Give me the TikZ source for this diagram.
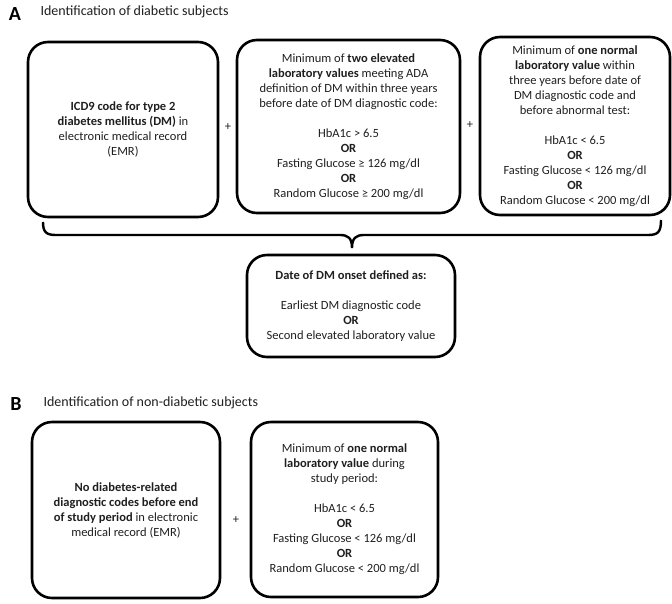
\documentclass[tikz,border=0pt]{standalone}
\usepackage{fontspec}
\setmainfont{Carlito}
\definecolor{ink}{rgb}{0.12,0.12,0.12}
\begin{document}
\begin{tikzpicture}[x=1pt,y=-1pt,
  box/.style={draw=black, line width=2.6pt, rounded corners=20pt, align=center,
    inner sep=0pt, text=ink, font=\fontsize{12.5}{15}\selectfont},
  plus/.style={text=ink, font=\fontsize{12.5}{15}\selectfont},
  panel/.style={font=\fontsize{20}{24}\selectfont\bfseries, text=black},
  title/.style={anchor=west, text=ink, font=\fontsize{14}{17}\selectfont},
  bracepath/.style={draw=black, line width=2.4pt}]
\useasboundingbox (0,0) rectangle (672,603);

% Panel A
\node[panel] (pA) at (15,14) {A};
\node[title] (tA) at (37,12) {Identification of diabetic subjects};

\node[box, minimum width=190pt, minimum height=175pt] (a1) at (123,129.5)
  {\textbf{ICD9 code for type 2}\\ \textbf{diabetes mellitus (DM)} in\\ electronic medical record\\ (EMR)};
\node[plus] (p1) at (228,127) {+};
\node[box, minimum width=223pt, minimum height=173pt] (a2) at (348.5,126.5)
  {Minimum of \textbf{two elevated}\\ \textbf{laboratory values} meeting ADA\\ definition of DM within three years\\ before date of DM diagnostic code:\\[15pt]
   HbA1c > 6.5\\ \textbf{OR}\\ Fasting Glucose ≥ 126 mg/dl\\ \textbf{OR}\\ Random Glucose ≥ 200 mg/dl};
\node[plus] (p2) at (470,125) {+};
\node[box, minimum width=190pt, minimum height=178pt] (a3) at (575,126)
  {Minimum of \textbf{one normal}\\ \textbf{laboratory value} within\\ three years before date of\\ DM diagnostic code and\\ before abnormal test:\\[15pt]
   HbA1c < 6.5\\ \textbf{OR}\\ Fasting Glucose < 126 mg/dl\\ \textbf{OR}\\ Random Glucose < 200 mg/dl};

% brace
\coordinate (bl) at (43,222);
\coordinate (br) at (661,220);
\coordinate (tip) at (352,248);
\draw[bracepath] (bl) .. controls (43,232) and (46,235) .. (56,235) -- (340,235)
  .. controls (348,235) and (352,238) .. (tip)
  .. controls (352,238) and (356,235) .. (364,235) -- (648,235)
  .. controls (658,235) and (661,232) .. (br);

\node[box, minimum width=208pt, minimum height=102pt] (a4) at (351,306)
  {\textbf{Date of DM onset defined as:}\\[15pt] Earliest DM diagnostic code\\ \textbf{OR}\\ Second elevated laboratory value};

% Panel B
\node[panel] (pB) at (16,404) {B};
\node[title] (tB) at (40,403) {Identification of non-diabetic subjects};

\node[box, minimum width=188pt, minimum height=176pt] (b1) at (126,510)
  {\textbf{No diabetes-related}\\ \textbf{diagnostic codes before end}\\ \textbf{of study period} in electronic\\ medical record (EMR)};
\node[plus] (p3) at (236,520) {+};
\node[box, minimum width=187pt, minimum height=175pt] (b2) at (344.5,509.5)
  {Minimum of \textbf{one normal}\\ \textbf{laboratory value} during\\ study period:\\[15pt]
   HbA1c < 6.5\\ \textbf{OR}\\ Fasting Glucose < 126 mg/dl\\ \textbf{OR}\\ Random Glucose < 200 mg/dl};
\end{tikzpicture}
\end{document}
